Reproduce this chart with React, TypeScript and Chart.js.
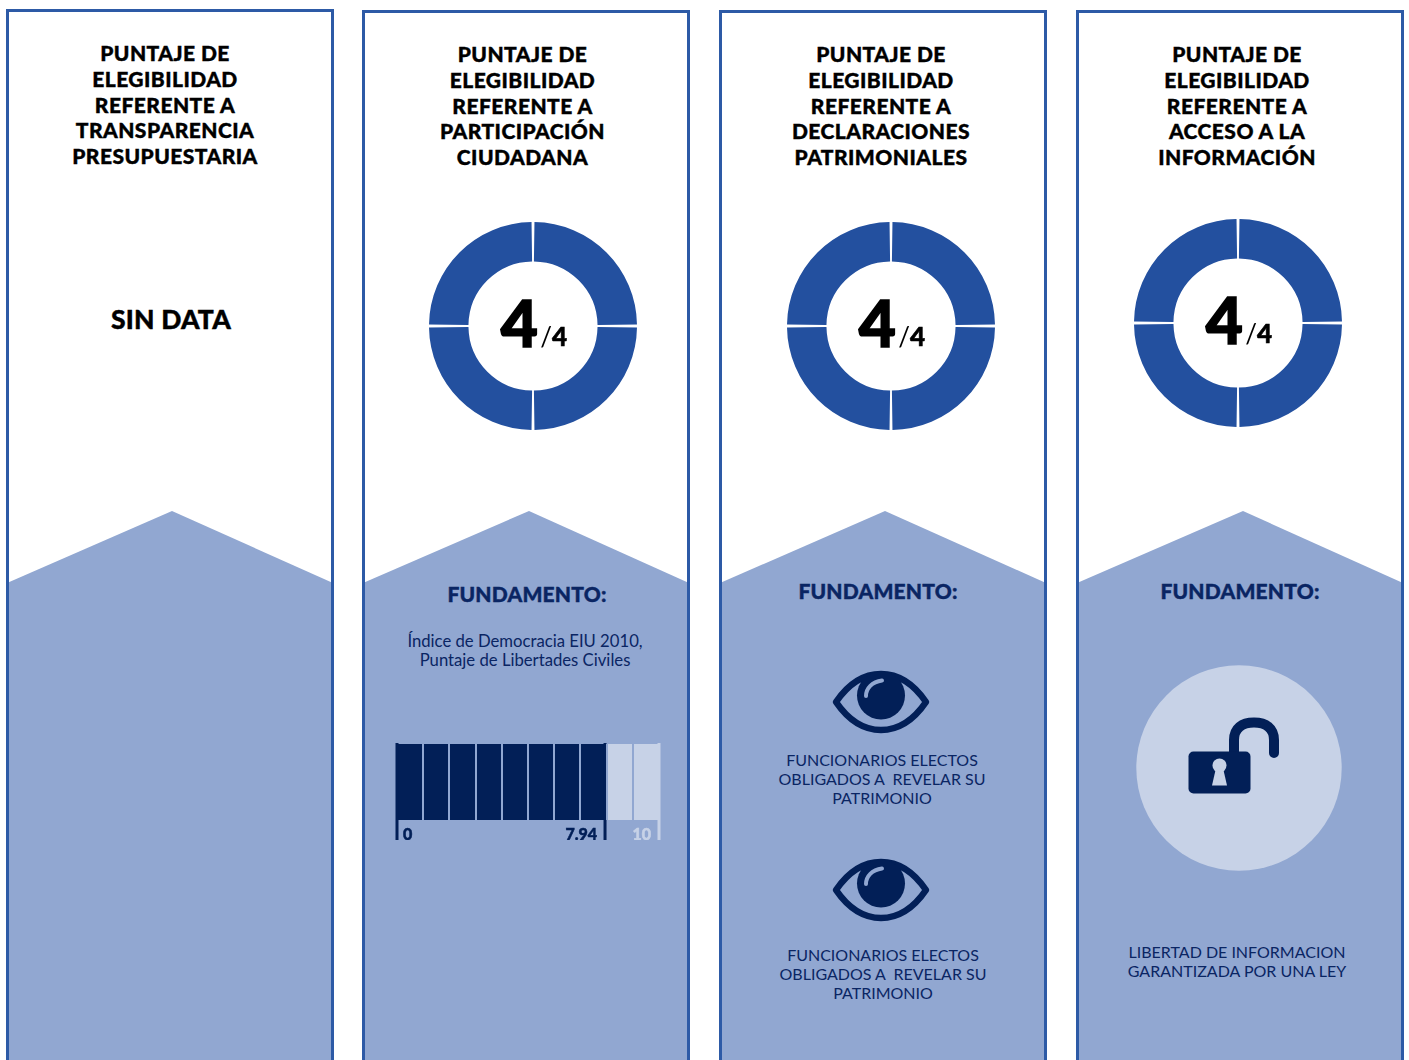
import React, { useEffect, useRef } from "react";
import { Chart, registerables } from "chart.js";

Chart.register(...registerables);

// Scores and labels
const scoreSegments = [1, 1, 1, 1];
const scoreLabel = "4";
const scoreTotalLabel = "/4";
const civilLibertiesScore = [7.94];
const civilLibertiesRemainder = [2.06];
const scaleGridValues = [0, 1, 2, 3, 4, 5, 6, 7, 8, 9, 10];
const scaleMarks = [0, 7.94, 10];
const scaleMarkLabels = ["0", "7.94", "10"];

const titleTransparency = ["PUNTAJE DE", "ELEGIBILIDAD", "REFERENTE A", "TRANSPARENCIA", "PRESUPUESTARIA"];
const titleParticipation = ["PUNTAJE DE", "ELEGIBILIDAD", "REFERENTE A", "PARTICIPACIÓN", "CIUDADANA"];
const titleAssets = ["PUNTAJE DE", "ELEGIBILIDAD", "REFERENTE A", "DECLARACIONES", "PATRIMONIALES"];
const titleAccess = ["PUNTAJE DE", "ELEGIBILIDAD", "REFERENTE A", "ACCESO A LA", "INFORMACIÓN"];
const noDataLabel = "SIN DATA";
const basisLabel = "FUNDAMENTO:";
const indexNote = ["Índice de Democracia EIU 2010,", "Puntaje de Libertades Civiles"];
const assetsNote = ["FUNCIONARIOS ELECTOS", "OBLIGADOS A  REVELAR SU", "PATRIMONIO"];
const accessNote = ["LIBERTAD DE INFORMACION", "GARANTIZADA POR UNA LEY"];

const BORDER = "#2d5aa6";
const DONUT = "#23509f";
const BAND = "#91a7d1";
const NAVY = "#021f57";
const PALE = "#c7d2e7";
const FONT = "Lato, 'Noto Sans', sans-serif";

function TextLines({ lines, cx, top, step, size, weight, color, spacing = 0, stroke = 0 }: any) {
  return (
    <>
      {lines.map((line: string, i: number) => (
        <div
          key={i}
          style={{
            position: "absolute",
            left: cx,
            top: top + i * step,
            transform: "translate(-50%, -50%)",
            whiteSpace: "pre",
            fontFamily: FONT,
            fontSize: size,
            fontWeight: weight,
            color,
            letterSpacing: spacing,
            lineHeight: 1,
            WebkitTextStroke: stroke ? `${stroke}px ${color}` : undefined,
          }}
        >
          {line}
        </div>
      ))}
    </>
  );
}

function Panel({ left, top, apexX }: any) {
  const w = 328;
  const apex = apexX - left;
  const shoulder = 583 - top;
  const peak = 511 - top;
  return (
    <svg
      width={w}
      height={1060 - top}
      style={{ position: "absolute", left, top, display: "block" }}
    >
      <polygon points={`1,${shoulder} ${apex},${peak} ${w - 1},${shoulder} ${w - 1},1060 1,1060`} fill={BAND} />
      <path d={`M1.5,1060 V1.5 H${w - 1.5} V1060`} fill="none" stroke={BORDER} strokeWidth={3} />
    </svg>
  );
}

function Donut({ cx, cy }: any) {
  const ref = useRef<HTMLCanvasElement>(null);
  const size = 208;
  useEffect(() => {
    const chart = new Chart(ref.current!, {
      type: "doughnut",
      data: {
        labels: ["1", "2", "3", "4"],
        datasets: [{ data: scoreSegments, backgroundColor: DONUT, borderWidth: 0, spacing: 3 }],
      },
      options: {
        animation: false,
        responsive: false,
        cutout: "61.5%",
        layout: { padding: 0 },
        plugins: { legend: { display: false }, tooltip: { enabled: false } },
      },
    });
    return () => chart.destroy();
  }, []);
  return (
    <>
      <canvas
        ref={ref}
        width={size}
        height={size}
        style={{ position: "absolute", left: cx - size / 2, top: cy - size / 2, width: size, height: size }}
      />
      <div
        style={{
          position: "absolute",
          left: cx - 32.5,
          top: cy - 43,
          fontFamily: FONT,
          fontWeight: 900,
          fontSize: 64,
          lineHeight: "80px",
          color: "#000",
          whiteSpace: "nowrap",
          WebkitTextStroke: "1.6px #000",
        }}
      >
        {scoreLabel}
      </div>
      <div
        style={{
          position: "absolute",
          left: cx + 7,
          top: cy - 5,
          fontFamily: FONT,
          fontSize: 26,
          lineHeight: "30px",
          color: "#000",
          whiteSpace: "nowrap",
        }}
      >
        <span style={{ fontWeight: 400 }}>/</span>
        <span style={{ fontWeight: 900, WebkitTextStroke: "0.6px #000" }}>{scoreTotalLabel.slice(1)}</span>
      </div>
    </>
  );
}

// Draws the long tick marks and value labels under the score bar.
const scaleMarksPlugin = {
  id: "scaleMarks",
  afterDatasetsDraw(chart: any) {
    const { ctx, scales, chartArea } = chart;
    ctx.save();
    scaleMarks.forEach((value, i) => {
      const x = scales.x.getPixelForValue(value);
      const colour = i === scaleMarks.length - 1 ? PALE : NAVY;
      ctx.fillStyle = colour;
      ctx.strokeStyle = colour;
      ctx.lineWidth = 0.5;
      ctx.fillRect(x - 1.5, 0, 3, chartArea.bottom + 20);
      ctx.font = `900 16px ${FONT}`;
      ctx.textBaseline = "middle";
      ctx.textAlign = i === 0 ? "left" : "right";
      const tx = i === 0 ? x + 6 : x - 8;
      ctx.fillText(scaleMarkLabels[i], tx, chartArea.bottom + 14.5);
      ctx.strokeText(scaleMarkLabels[i], tx, chartArea.bottom + 14.5);
    });
    ctx.restore();
  },
};

function ScoreBar({ left, top }: any) {
  const ref = useRef<HTMLCanvasElement>(null);
  useEffect(() => {
    const chart = new Chart(ref.current!, {
      type: "bar",
      data: {
        labels: ["Libertades Civiles"],
        datasets: [
          { data: civilLibertiesScore, backgroundColor: NAVY, borderWidth: 0 },
          { data: civilLibertiesRemainder, backgroundColor: PALE, borderWidth: 0 },
        ],
      },
      options: {
        indexAxis: "y",
        animation: false,
        responsive: false,
        datasets: { bar: { categoryPercentage: 1, barPercentage: 1 } },
        layout: { padding: { left: 3, right: 3, top: 1, bottom: 20 } },
        scales: {
          x: {
            type: "linear",
            min: 0,
            max: 10,
            stacked: true,
            border: { display: false },
            afterBuildTicks: (axis: any) => {
              axis.ticks = scaleGridValues.map((value) => ({ value }));
            },
            ticks: { display: false },
            grid: {
              z: 1,
              drawTicks: false,
              lineWidth: 2,
              color: (c: any) => (c.tick && c.tick.value > 0 && c.tick.value < 10 ? BAND : "rgba(0,0,0,0)"),
            },
          },
          y: {
            stacked: true,
            display: false,
          },
        },
        plugins: { legend: { display: false }, tooltip: { enabled: false } },
      },
      plugins: [scaleMarksPlugin],
    } as any);
    return () => chart.destroy();
  }, []);
  return <canvas ref={ref} width={268} height={97} style={{ position: "absolute", left, top, width: 268, height: 97 }} />;
}

function Eye({ cx, cy }: any) {
  return (
    <svg width={100} height={66} viewBox="-50 -33 100 66" style={{ position: "absolute", left: cx - 50, top: cy - 33 }}>
      <path
        d="M-45,0 C-32,-19 -17,-28 0,-28 C17,-28 32,-19 45,0 C32,19 17,28 0,28 C-17,28 -32,19 -45,0 Z"
        fill="none"
        stroke={NAVY}
        strokeWidth={6.5}
        strokeLinejoin="round"
      />
      <circle cx={0} cy={-6.5} r={24} fill={NAVY} />
      <path d="M-15,-6 C-15,-14 -9,-20 1,-21.5" fill="none" stroke={BAND} strokeWidth={4} strokeLinecap="round" />
    </svg>
  );
}

function Lock({ cx, cy }: any) {
  return (
    <svg width={210} height={210} viewBox="-105 -105 210 210" style={{ position: "absolute", left: cx - 105, top: cy - 105 }}>
      <circle cx={0} cy={0} r={102.7} fill={PALE} />
      <path
        d="M-5,-12 V-28 C-5,-40 3,-45.5 15,-45.5 C27,-45.5 35,-40 35,-28 V-15"
        fill="none"
        stroke={NAVY}
        strokeWidth={10}
        strokeLinecap="round"
      />
      <rect x={-50.5} y={-16.5} width={62} height={42} rx={5} fill={NAVY} />
      <circle cx={-19.5} cy={-2.5} r={7} fill={PALE} />
      <path d="M-23,0 L-16,0 L-12,17.5 L-27,17.5 Z" fill={PALE} />
    </svg>
  );
}

export default function App() {
  const title = { step: 25.75, size: 21, weight: 900, color: "#000", spacing: 0.45, stroke: 0.4 };
  const basis = { step: 0, size: 21, weight: 900, color: "#0a2563", spacing: 0.2, stroke: 0.4 };
  const note = { step: 19, size: 16, weight: 400, color: "#0a2563" };
  return (
    <div style={{ position: "absolute", left: 0, top: 0, width: 1409, height: 1060, overflow: "hidden", background: "#fff" }}>
      <Panel left={6} top={9} apexX={172} />
      <Panel left={362} top={10} apexX={529} />
      <Panel left={719} top={10} apexX={885} />
      <Panel left={1076} top={10} apexX={1243} />

      <TextLines lines={titleTransparency} cx={165} top={52} {...title} />
      <TextLines lines={titleParticipation} cx={522.5} top={53} {...title} />
      <TextLines lines={titleAssets} cx={881} top={53} {...title} />
      <TextLines lines={titleAccess} cx={1237} top={53} {...title} />

      <TextLines lines={[noDataLabel]} cx={171} top={318.5} step={0} size={26.5} weight={900} color="#000" spacing={0.2} stroke={0.4} />

      <Donut cx={533.25} cy={326} />
      <Donut cx={891.25} cy={326} />
      <Donut cx={1238.25} cy={322.5} />

      <TextLines lines={[basisLabel]} cx={527} top={592.5} {...basis} />
      <TextLines lines={[basisLabel]} cx={878} top={589.5} {...basis} />
      <TextLines lines={[basisLabel]} cx={1240} top={589.5} {...basis} />

      <TextLines lines={indexNote} cx={525} top={641} {...note} size={16.7} />
      <ScoreBar left={394} top={743} />

      <Eye cx={880.5} cy={702} />
      <TextLines lines={assetsNote} cx={882} top={760} {...note} />
      <Eye cx={880.5} cy={890} />
      <TextLines lines={assetsNote} cx={883} top={955} {...note} />

      <Lock cx={1238.5} cy={767.5} />
      <TextLines lines={accessNote} cx={1237} top={952} {...note} />
    </div>
  );
}
